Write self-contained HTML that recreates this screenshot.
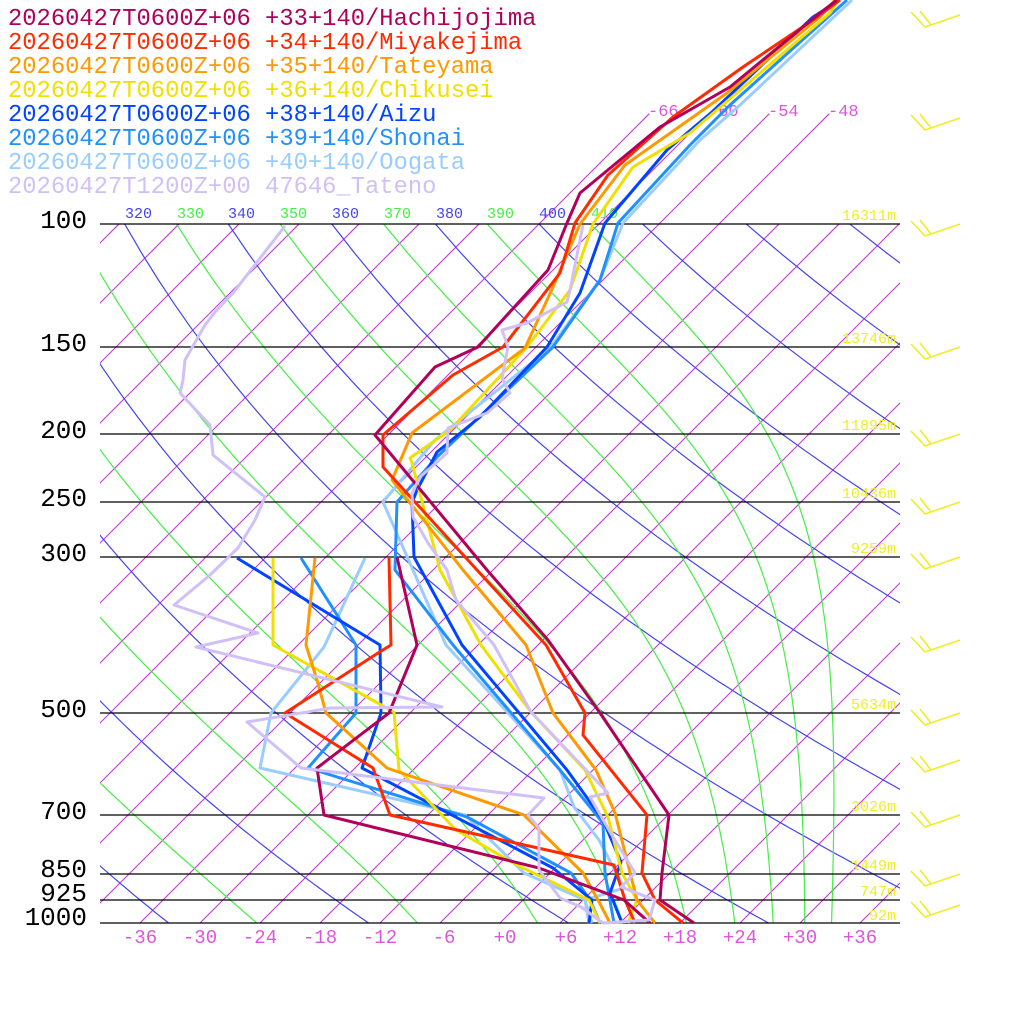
<!DOCTYPE html>
<html><head><meta charset="utf-8"><style>
html,body{margin:0;padding:0;background:#fff;}
svg{display:block;}
text{font-family:"Liberation Mono",monospace;}
</style></head><body>
<svg id="s" width="1024" height="1024" viewBox="0 0 1024 1024" xmlns="http://www.w3.org/2000/svg">
<defs>
<clipPath id="plot"><rect x="100" y="224" width="800" height="699"/></clipPath>
<clipPath id="iso"><rect x="100" y="100" width="800" height="823"/></clipPath>
<clipPath id="lab"><rect x="100" y="190" width="800" height="40"/></clipPath>
</defs>
<g id="grid"></g>
<g fill="none" stroke="#000" stroke-width="1.3">
<line x1="100" y1="224" x2="900" y2="224"/><line x1="100" y1="347" x2="900" y2="347"/>
<line x1="100" y1="434" x2="900" y2="434"/><line x1="100" y1="502" x2="900" y2="502"/>
<line x1="100" y1="557" x2="900" y2="557"/><line x1="100" y1="713" x2="900" y2="713"/>
<line x1="100" y1="815" x2="900" y2="815"/><line x1="100" y1="874" x2="900" y2="874"/>
<line x1="100" y1="900" x2="900" y2="900"/><line x1="100" y1="923" x2="900" y2="923"/>
</g>
<g font-size="15" clip-path="url(#lab)">
<text x="73" y="218" fill="#44ee44">310</text>
<text x="125" y="218" fill="#4444ee">320</text>
<text x="177" y="218" fill="#44ee44">330</text>
<text x="228" y="218" fill="#4444ee">340</text>
<text x="280" y="218" fill="#44ee44">350</text>
<text x="332" y="218" fill="#4444ee">360</text>
<text x="384" y="218" fill="#44ee44">370</text>
<text x="436" y="218" fill="#4444ee">380</text>
<text x="487" y="218" fill="#44ee44">390</text>
<text x="539" y="218" fill="#4444ee">400</text>
<text x="591" y="218" fill="#44ee44">410</text>
</g>
<g font-size="17" fill="#dd55dd">
<text x="648" y="116">-66</text><text x="708" y="116">-60</text>
<text x="768" y="116">-54</text><text x="828" y="116">-48</text>
</g>
<g font-size="15" fill="#eeee22" text-anchor="end">
<text x="896" y="220">16311m</text><text x="896" y="343">13746m</text>
<text x="896" y="430">11895m</text><text x="896" y="498">10436m</text>
<text x="896" y="553">9259m</text><text x="896" y="709">5634m</text>
<text x="896" y="811">3026m</text><text x="896" y="870">1449m</text>
<text x="896" y="896">747m</text><text x="896" y="920">92m</text>
</g>
<g font-size="26" fill="#000" text-anchor="end">
<text x="87" y="228">100</text>
<text x="87" y="351">150</text>
<text x="87" y="438">200</text>
<text x="87" y="506">250</text>
<text x="87" y="561">300</text>
<text x="87" y="717">500</text>
<text x="87" y="819">700</text>
<text x="87" y="877">850</text>
<text x="87" y="901">925</text>
<text x="87" y="925">1000</text>
</g>
<g font-size="19" fill="#dd55dd" text-anchor="middle">
<text x="140" y="943">-36</text><text x="200" y="943">-30</text><text x="260" y="943">-24</text>
<text x="320" y="943">-18</text><text x="380" y="943">-12</text><text x="444" y="943">-6</text>
<text x="505" y="943">+0</text><text x="566" y="943">+6</text><text x="620" y="943">+12</text>
<text x="680" y="943">+18</text><text x="740" y="943">+24</text><text x="800" y="943">+30</text>
<text x="860" y="943">+36</text>
</g>
<g fill="none" stroke-width="3" stroke-linejoin="round">
<polyline stroke="#99ccff" points="589,923 585,900 624,888 599,840 574,807 560,770 446,645 383,502 435,440 550,348 600,280 623,223 700,140 740,105 852,0"/>
<polyline stroke="#99ccff" points="365,558 324,647 271,713 260,768 465,815 524,873 585,900 592,923"/>
<polyline stroke="#2090ff" points="614,923 605,873 603,823 560,770 453,645 395,570 397,502 437,457 553,347 600,280 618,223 690,145 730,105 847,0"/>
<polyline stroke="#2090ff" points="301,558 356,645 356,713 308,768 467,817 571,873 590,900 600,923"/>
<polyline stroke="#0044ff" points="622,923 610,893 621,862 603,820 567,770 462,645 414,557 412,503 417,490 437,452 480,417 547,347 580,293 605,223 667,150 712,112 813,17 840,0"/>
<polyline stroke="#0044ff" points="237,558 380,645 381,713 362,768 553,868 592,900 589,923"/>
<polyline stroke="#f0e000" points="628,923 637,900 622,873 608,817 585,770 531,712 481,645 440,570 412,463 410,458 450,430 527,347 570,290 593,224 633,167 690,133 830,13 838,0"/>
<polyline stroke="#f0e000" points="273,558 273,645 394,712 399,770 456,830 517,865 589,900 600,923"/>
<polyline stroke="#ff9900" points="655,923 637,900 615,813 596,770 553,713 526,645 463,570 392,480 412,433 525,348 553,287 580,224 625,165 727,93 820,17 835,0"/>
<polyline stroke="#ff9900" points="315,558 306,645 317,680 326,713 387,768 524,815 583,873 598,900 610,923"/>
<polyline stroke="#ff2a00" points="683,923 655,900 642,873 647,815 583,735 585,713 546,645 477,570 383,467 383,435 453,375 503,347 560,273 575,223 608,175 673,117 743,67 813,20 840,0"/>
<polyline stroke="#ff2a00" points="389,558 391,645 378,653 285,713 373,768 390,815 614,865 625,900 635,923"/>
<polyline stroke="#b0005a" points="694,923 660,900 662,873 669,815 600,713 548,640 487,570 375,435 435,367 478,347 548,270 567,223 580,193 660,127 730,87 820,13 837,0"/>
<polyline stroke="#b0005a" points="397,557 417,645 389,713 317,768 324,815 539,868 624,900 650,923"/>
<polyline stroke="#d0c0f8" points="603,923 649,920 655,900 621,887 635,873 610,832 590,797 608,793 531,712 494,645 456,600 447,570 428,543 413,517 412,493 420,477 447,453 448,428 487,413 510,393 502,378 508,347 502,330 527,323 567,302 570,290 583,225"/>
<polyline stroke="#d0c0f8" points="603,923 581,907 560,898 539,870 539,828 528,815 544,798 301,768 247,722 331,708 442,707 196,647 258,633 174,605 210,575 238,548 255,520 265,497 213,455 210,425 180,393 183,380 185,360 205,325 215,312 233,293 285,226"/>
</g>
<g fill="none" stroke="#eeee22" stroke-width="1.6" id="barbs"></g>
<g font-size="23.8">
<text x="8" y="25" fill="#b0005a">20260427T0600Z+06 +33+140/Hachijojima</text>
<text x="8" y="49" fill="#ff2a00">20260427T0600Z+06 +34+140/Miyakejima</text>
<text x="8" y="73" fill="#ff9900">20260427T0600Z+06 +35+140/Tateyama</text>
<text x="8" y="97" fill="#f0e000">20260427T0600Z+06 +36+140/Chikusei</text>
<text x="8" y="121" fill="#0044ff">20260427T0600Z+06 +38+140/Aizu</text>
<text x="8" y="145" fill="#2090ff">20260427T0600Z+06 +39+140/Shonai</text>
<text x="8" y="169" fill="#99ccff">20260427T0600Z+06 +40+140/Oogata</text>
<text x="8" y="193" fill="#d0c0f8">20260427T1200Z+00 47646_Tateno</text>
</g>
</svg>
<script>
(function(){
var NS="http://www.w3.org/2000/svg";
function Y(p){return 923-303.5*Math.log(1000/p);}
function X(T,p){return 500+10*T+(923-Y(p));}
var g=document.getElementById('grid');
function pl(pts,col,clip,w){var e=document.createElementNS(NS,'polyline');
e.setAttribute('points',pts.map(function(a){return a[0].toFixed(1)+','+a[1].toFixed(1)}).join(' '));
e.setAttribute('fill','none');e.setAttribute('stroke',col);e.setAttribute('stroke-width',w||1.2);
e.setAttribute('clip-path','url(#'+clip+')');g.appendChild(e);}
for(var T=-132;T<=42;T+=6){var ptop=(T>=-66&&T<=-48)?69.5:100;
pl([[X(T,1000),923],[X(T,ptop),Y(ptop)]],'#cc33dd','iso',1.1);}
for(var th=200;th<=480;th+=20){var a=[];for(var p=100;p<=1000;p+=10){a.push([X(th*Math.pow(p/1000,0.2857)-273.15,p),Y(p)]);}pl(a,'#4444ee','plot',1.2);}
function es(t){return 6.112*Math.exp(17.67*t/(t+243.5));}
for(var th=210;th<=410;th+=20){var TK=th*Math.pow(0.1,0.2857),a=[];var p=100,dp=1;
a.push([X(TK-273.15,p),Y(p)]);
while(p<1000){var tc=TK-273.15;var e=es(tc);var rs=0.622*e/Math.max(p-e,1);
var d=(1/p)*(287*TK+2.5e6*rs)/(1005+2.5e6*2.5e6*rs*0.622/(287*TK*TK));
TK+=d*dp;p+=dp;if(p%10==0)a.push([X(TK-273.15,p),Y(p)]);}
pl(a,'#44ee44','plot',1.2);}
var b=document.getElementById('barbs');
var ys=[15,118,224,347,434,502,557,640,713,760,815,874,905];
ys.forEach(function(y){var e=document.createElementNS(NS,'polyline');
e.setAttribute('points','960,'+y+' 925,'+(y+12)+' 911,'+(y-3));b.appendChild(e);
var f=document.createElementNS(NS,'line');f.setAttribute('x1',931);f.setAttribute('y1',y+10);f.setAttribute('x2',920);f.setAttribute('y2',y-4);b.appendChild(f);});
})();
</script>
</body></html>
